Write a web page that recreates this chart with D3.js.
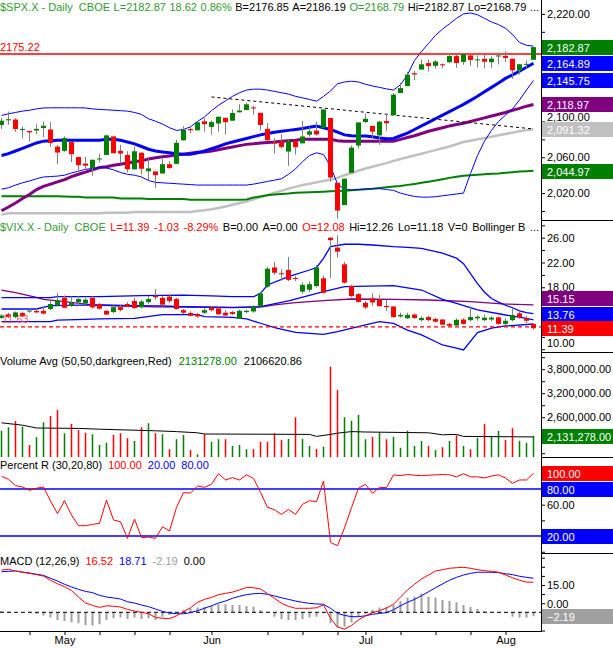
<!DOCTYPE html>
<html lang="en">
<head>
<meta charset="UTF-8">
<title>$SPX.X Daily</title>
<script src="https://d3js.org/d3.v7.min.js"></script>
<style>
  body { margin: 0; background: #fff; }
  svg { display: block; font-family: 'Liberation Sans', Arial, sans-serif; }
  text { font-size: 11px; white-space: pre; }
</style>
</head>
<body>
<svg id="chart" width="613" height="651"></svg>
<script>
// ---- dates / time axis (bar index 0 = Apr 19 2016, 76 = Aug 5 2016)
const weekIdx = [4, 9, 14, 19, 24, 30, 38, 43, 48, 52, 57, 62, 67, 72];
const monthIdx = [9, 30, 52, 72];
const monthNames = ['May', 'Jun', 'Jul', 'Aug'];

// ---- $SPX price
const spxPrevClose = 2094.34;
const spxOpen = [
  2096.05,2101.52,2102.09,2091.49,2089.37,2089.84,2092.57,2090.93,2071.82,2067.17,
  2076.97,2060.30,2052.95,2047.77,2057.55,2062.63,2083.29,2067.17,2062.50,2046.53,
  2065.04,2044.38,2044.21,2041.88,2052.23,2052.65,2078.93,2091.44,2090.06,2100.13,
  2093.94,2097.71,2104.07,2100.83,2110.18,2112.71,2115.65,2109.57,2091.75,2076.65,
  2077.60,2066.36,2078.20,2075.58,2085.19,2089.75,2092.80,2103.81,2031.45,2006.67,
  2042.69,2073.17,2099.34,2095.05,2084.43,2100.42,2106.97,2131.72,2139.50,2153.81,
  2157.88,2165.13,2162.04,2163.79,2166.10,2172.91,2166.47,2173.71,2168.97,2169.81,
  2166.05,2172.86,2173.15,2169.94,2156.81,2163.51,2168.79];
const spxHigh = [
  2104.05,2111.05,2103.78,2094.32,2089.37,2096.87,2099.89,2099.30,2073.85,2083.42,
  2076.97,2060.30,2060.23,2057.72,2064.15,2084.87,2083.29,2073.99,2066.79,2071.88,
  2065.69,2060.61,2044.21,2058.35,2055.58,2079.67,2094.73,2094.30,2099.06,2103.48,
  2100.97,2105.26,2104.07,2113.36,2119.22,2120.55,2117.64,2109.57,2098.12,2081.30,
  2085.65,2079.62,2078.20,2100.66,2093.66,2099.71,2113.32,2103.81,2031.45,2036.09,
  2073.13,2098.94,2108.71,2095.05,2100.72,2109.08,2131.71,2143.16,2155.40,2156.45,
  2169.05,2169.05,2168.35,2164.63,2175.63,2174.56,2175.11,2173.71,2173.54,2174.98,
  2172.85,2177.09,2178.29,2170.20,2163.79,2168.19,2182.87];
const spxLow = [
  2091.68,2096.32,2088.52,2081.20,2077.52,2085.80,2082.31,2071.62,2052.28,2066.11,
  2054.61,2045.55,2045.77,2039.45,2054.31,2062.63,2064.46,2053.13,2043.13,2046.53,
  2040.82,2034.49,2025.91,2041.88,2047.26,2052.65,2078.93,2087.08,2090.06,2088.66,
  2085.10,2088.59,2085.36,2100.83,2110.18,2112.71,2107.73,2089.96,2078.46,2064.10,
  2069.80,2050.37,2062.84,2075.58,2083.02,2084.36,2092.80,2032.57,1991.68,2006.67,
  2042.69,2070.00,2097.90,2080.86,2074.02,2089.39,2106.97,2131.72,2139.50,2146.21,
  2157.88,2155.79,2159.07,2159.40,2164.89,2159.75,2163.24,2161.95,2160.18,2159.07,
  2159.74,2163.49,2166.21,2147.58,2152.25,2159.07,2168.79];
const spxClose = [
  2100.80,2102.40,2091.48,2091.58,2087.79,2091.70,2095.15,2075.81,2065.30,2081.43,
  2063.37,2051.12,2050.63,2057.14,2058.69,2084.39,2064.46,2064.11,2046.61,2066.66,
  2047.21,2047.63,2040.04,2052.32,2048.04,2076.06,2090.54,2090.10,2099.06,2096.95,
  2099.33,2105.26,2099.13,2109.41,2112.13,2119.12,2115.48,2096.07,2079.06,2075.32,
  2071.50,2077.99,2071.22,2083.25,2088.90,2085.45,2113.32,2037.41,2000.54,2036.09,
  2070.77,2098.86,2102.95,2088.55,2099.73,2097.90,2129.90,2137.16,2152.14,2152.43,
  2163.75,2161.74,2166.89,2163.78,2173.02,2165.17,2175.03,2168.48,2169.18,2166.58,
  2170.06,2173.60,2170.84,2157.03,2163.79,2164.25,2182.87];

// overlays
const sma20 = [
  2062,2064,2067,2070,2073,2076,2078,2078.5,2079,2079,
  2079,2079,2079,2079,2079,2080,2080,2079,2077,2075,
  2072,2069,2067,2066,2065,2064,2063.5,2063.5,2065,2067,
  2069.5,2072,2075,2077,2079,2081,2083,2085,2086.5,2088,
  2089,2090,2091,2092,2093.5,2094.8,2093,2091,2088,2085,
  2084,2083.7,2083.7,2083,2081.5,2080.7,2081,2084,2087,2091,
  2095,2099,2103,2107,2111,2115,2119,2123.5,2128,2133,
  2138,2143,2148,2152,2156,2160.5,2164.89];
const bbUpper = [
  2106.7,2108.5,2110,2111.5,2112.5,2114,2115,2115.2,2115.2,2115.2,
  2115.2,2115.2,2115,2114,2113.3,2113,2112.5,2112,2111.5,2110,
  2107.8,2103,2100.3,2097,2093,2090,2091,2094,2100,2105,
  2112,2118,2123,2128,2132,2135,2136,2136,2135,2133.5,
  2132,2130.5,2128,2126.3,2124.5,2122.6,2128,2134,2142,2144,
  2144.8,2144,2141.5,2139.5,2138,2136.3,2135,2141,2152,2168,
  2178,2187,2196,2203,2209,2215,2220,2221,2219,2215,
  2211,2208,2204,2197,2188,2185,2184];
const bbLower = [
  2024.4,2026,2029,2031.5,2033.5,2036,2038,2038.5,2039,2040,
  2042.5,2044.5,2046.5,2047.5,2048.5,2048,2046,2043,2041,2040,
  2038,2034,2032,2031.5,2031,2030.5,2030,2029.5,2029,2029,
  2029,2029,2029,2029,2029,2029,2030,2031.5,2033,2034.5,
  2036,2041,2047,2055,2062,2065,2063,2050,2030,2024.5,
  2023.5,2024,2024.5,2025,2025,2024,2023,2020,2018,2016.3,
  2015.5,2015.5,2016,2017,2018,2019,2020,2042,2062,2078,
  2090,2100,2107,2114,2124,2135,2145.75];
const sma50 = [
  2000.3,2004.5,2009,2014,2018.5,2024,2027.5,2030,2032.5,2035,
  2038.5,2041,2043.5,2046,2048.5,2049.5,2051,2052.2,2053.5,2055,
  2056,2058,2059.5,2060.5,2061.5,2062.5,2063.5,2064.5,2065.5,2066,
  2067,2068.5,2070,2071.5,2073,2074.4,2075,2076,2076.5,2077,
  2078,2078.5,2079,2080,2080,2080,2080,2080,2078.5,2078,
  2078,2078,2078,2078,2078,2078,2078,2080,2082,2084,
  2086.5,2089,2091,2093,2095,2096.5,2098,2100,2102,2104,
  2106,2108,2110,2112.5,2114.5,2117,2118.97];
const sma100 = [
  1996,1997.4,1997.4,1997.4,1997.4,1997.4,1997.4,1997.4,1997.4,1997.4,
  1997.4,1997.4,1997.4,1997.4,1997.4,1998,1998,1998,1998,1999,
  1999,1999,1999,1999,1999,1999,1999,1999,2000,2001,
  2002,2003.5,2005,2007,2009,2010.5,2013,2015.5,2018,2020.5,
  2022.5,2025,2027,2029,2030.5,2032,2033.5,2035,2037,2040,
  2042.5,2045,2047.4,2049.5,2051.5,2053.5,2056,2058,2060,2062,
  2064,2066,2068,2070,2072,2074.5,2077,2078.5,2080,2081.5,
  2083,2084.5,2086,2087.5,2089,2090.3,2091.32];
const sma200 = [
  2016.5,2016.5,2016.5,2016.5,2016.5,2016.5,2016.5,2016.5,2016.5,2016.3,
  2016,2016,2015,2015,2015,2015,2015,2014,2014,2014,
  2014,2013.3,2013.3,2013.3,2013.3,2013.3,2013.3,2012.6,2012.6,2012.6,
  2012.6,2012.6,2012.6,2012.6,2012.7,2012.8,2015,2016.3,2017.5,2018.5,
  2019,2019.5,2020.3,2020.7,2021,2021.3,2021.6,2022,2022.3,2022.7,
  2023.2,2023.8,2024.4,2025,2025.8,2026.5,2027.3,2028,2029.2,2030.3,
  2031.5,2032.7,2034,2035.5,2037,2038.2,2039.3,2040,2040.5,2041,
  2041.5,2042,2042.7,2043.3,2044,2044.5,2044.97];
const trendLine = [[30, 2127.3], [76, 2091.6]];
const resistance = 2175.22;

// ---- $VIX
const vixOpen = [
  13.05,13.65,13.2,13.85,14.1,14.2,14.2,14.5,15.1,16.3,
  15.0,15.6,15.4,16.3,15.3,14.2,14.0,14.8,15.3,15.8,
  14.8,15.6,16.6,16.3,16.5,16.1,14.3,13.85,13.7,13.9,
  14.7,14.6,13.9,14.0,12.95,14.0,14.1,14.9,18.1,21.2,
  20.26,20.8,19.5,17.3,17.6,18.2,19.45,26.0,24.4,21.7,
  18.2,16.9,15.5,16.2,16.0,15.0,14.9,13.3,13.0,13.6,
  12.7,13.2,12.9,12.8,12.1,11.85,12.8,12.7,13.0,12.7,
  12.8,13.15,12.1,12.7,13.8,13.0,12.08];
const vixHigh = [
  13.7,13.9,14.1,14.1,14.6,14.6,14.9,15.8,17.1,16.7,
  16.5,16.6,16.3,16.6,15.5,14.3,15.1,15.2,15.6,16.3,
  16.0,16.6,17.7,16.6,16.9,16.3,14.5,14.1,13.9,14.7,
  15.0,14.9,14.3,14.2,14.4,14.4,15.1,17.3,21.3,22.1,
  20.9,22.9,19.8,18.8,19.0,21.6,19.9,26.1,26.4,22.1,
  18.4,17.1,15.8,17.0,16.8,16.0,15.0,13.9,13.9,13.8,
  13.3,13.4,13.1,12.9,12.3,13.0,13.0,14.9,13.5,13.6,
  13.4,13.3,13.0,14.6,14.1,13.4,12.26];
const vixLow = [
  12.9,13.0,13.0,13.2,13.9,13.8,13.6,14.3,14.9,14.6,
  14.8,15.3,15.1,14.6,14.4,13.5,13.8,14.1,14.8,14.5,
  14.6,15.3,16.0,15.0,15.5,14.4,13.7,13.3,13.1,13.7,
  14.1,13.5,13.3,13.5,12.9,13.8,13.9,14.8,17.9,20.0,
  19.1,19.0,19.0,16.9,17.2,18.0,17.0,19.5,22.8,18.6,
  16.4,15.5,14.5,15.0,14.9,14.2,13.1,13.1,12.9,12.9,
  12.5,12.5,12.3,11.9,11.65,11.75,11.95,12.5,12.6,12.5,
  12.5,11.9,11.9,12.5,12.9,12.2,11.18];
const vixClose = [
  13.45,13.2,13.95,13.3,14.25,13.95,13.75,15.3,15.9,14.7,
  15.5,16.1,16.0,14.75,14.55,13.6,14.8,14.35,14.9,14.65,
  15.7,16.1,16.4,15.2,15.8,14.5,13.9,13.4,13.3,14.3,
  14.3,13.65,13.45,13.7,14.2,14.2,14.9,17.0,21.0,20.35,
  20.1,19.2,19.4,18.4,18.5,21.2,17.1,25.6,23.75,18.75,
  16.6,15.65,14.75,15.55,14.95,14.8,13.2,13.55,13.55,13.05,
  13.05,12.7,12.45,11.97,11.8,12.75,12.1,13.2,13.25,13.1,
  13.1,12.1,12.6,13.5,13.15,12.6,11.39];
const vixUpper = [[0,16.32],[7,16.32],[8,16.48],[14,16.48],[20,16.64],[26,16.75],[30,16.6],[33,16.48],
  [36,16.48],[37,17.03],[38,18.37],[41,19.71],[44,20.79],[45,21.16],[46,22.68],[47,24.55],[49,24.94],
  [51,24.94],[53,24.82],[56,24.55],[58,24.45],[60,24.29],[63,23.5],[65,22.7],[66,21.8],[67,20.2],
  [68,18.6],[69,17.2],[70,16.2],[71,15.6],[72,15.1],[73,14.7],[74,14.2],[75,13.9],[76,13.76]];
const vixMiddle = [[0,14.5],[5,14.5],[7,15.05],[14,15.16],[19,15.05],[23,15.0],[25,14.9],[33,14.72],
  [37,14.87],[41,15.79],[46,17.29],[49,18.1],[56,18.26],[60,17.56],[63,16.06],[65,15.42],[68,14.34],
  [72,13.53],[75,13.0],[76,12.73]];
const vixLower = [[0,12.45],[7,12.45],[8,12.71],[12,12.82],[14,12.89],[19,12.97],[23,13.6],[28,13.6],
  [29,13.26],[33,13.16],[35,12.9],[37,12.2],[39,11.5],[42,10.74],[44,10.58],[46,10.42],[48,10.84],
  [52,11.92],[54,12.45],[56,12.19],[58,11.1],[60,10.31],[63,8.69],[65,8.2],[66,7.9],[68,10.7],
  [70,11.4],[72,11.76],[76,12.08]];
const vixSma = [[0,17.56],[2,17.13],[5,16.38],[6,16.06],[9,15.68],[13,15.15],[17,14.98],[22,14.85],
  [28,14.8],[33,14.77],[37,14.8],[39,15.15],[42,15.52],[46,15.85],[50,16.11],[56,16.06],[61,15.95],
  [67,15.68],[72,15.3],[76,15.15]];
const vixLevel = 11.63;

// ---- volume
const volume = [
  2263000,2347000,2505000,2363000,1905000,2097000,2472000,2630000,2780000,2197000,
  2430000,2280000,2213000,2172000,1905000,1963000,2155000,2197000,2072000,2005000,
  2347000,2447000,2197000,2172000,1797000,2047000,2155000,1780000,1672000,2172000,
  1988000,2047000,2047000,1880000,1905000,1797000,1805000,1988000,1988000,2197000,
  2030000,2055000,2597000,2055000,1880000,1805000,1863000,3863000,3280000,2597000,
  2513000,2655000,2047000,2105000,2222000,2047000,2113000,1838000,2263000,1880000,
  2005000,1880000,1780000,1847000,2005000,2147000,1880000,1797000,2088000,2430000,
  2113000,2255000,2030000,2322000,2013000,1963000,2131278];
const volumeAvg = [[0,2460000],[3,2400000],[5,2330000],[11,2320000],[14,2300000],[22,2260000],
  [25,2240000],[28,2210000],[29,2180000],[44,2170000],[45,2120000],[47,2170000],[48,2200000],
  [50,2240000],[52,2230000],[61,2210000],[63,2160000],[65,2170000],[66,2120000],[76,2106620.86]];

// ---- Percent R (30)
const pctR = [
  96.2,92.3,84.3,82.6,78.3,80.9,82.6,64.7,48.5,65.1,
  46.8,33.2,33.2,34.9,36.2,65.9,40.4,38.3,17.0,41.7,
  17.9,18.7,17.0,31.9,26.4,56.6,75.3,74.9,83.8,82.1,
  86.0,99.5,91.5,94.5,91.5,98.0,93.6,75.7,56.6,53.6,
  47.6,54.0,47.6,60.4,65.1,63.8,90.2,11.9,7.6,30.6,
  56.2,80.9,86.0,74.5,82.1,81.7,98.0,97.0,98.5,97.5,
  97.0,97.5,98.0,98.5,98.0,95.5,99.5,95.5,95.5,94.0,
  96.5,98.0,94.0,87.2,91.5,91.5,100];

// ---- MACD (12,26,9)
const macdLine = [
  23.2,23.6,22.7,22.0,21.4,20.7,19.9,17.6,15.7,14.1,
  11.9,8.4,5.1,3.8,2.7,3.6,3.3,2.9,1.6,0.7,
  0,-0.8,-2.8,-3.3,-3.5,-1.9,0.3,2.5,5.5,7.1,
  8.2,9.7,10.4,11.1,12.3,13.7,13.5,12.8,10.2,7.7,
  4.9,3.3,2.2,2.2,2.2,2.5,4.0,-3.3,-8.1,-9.2,
  -7.2,-4.2,-1.9,-0.2,0.9,2.4,4.4,8.4,12.3,15.4,
  18.3,20.5,22.7,23.4,24.2,24.5,24.7,24.2,23.4,22.9,
  22.5,22.0,20.5,19.0,17.6,16.6,16.52];
const signalLine = [
  22.3,22.5,22.7,22.1,21.6,20.9,20.3,18.7,17.2,15.4,
  13.9,12.6,11.5,10.8,9.3,8.4,7.9,7.3,5.8,5.1,
  4.0,3.1,1.8,0.5,-0.4,-0.8,-0.8,-0.2,0.9,2.2,
  3.6,5.1,6.2,7.7,8.8,9.7,10.2,10.4,9.9,9.0,
  8.0,7.1,6.2,5.5,4.9,4.6,4.4,2.2,-0.6,-1.7,
  -2.4,-2.4,-1.9,-1.1,-0.6,-0.2,1.4,3.6,5.5,7.1,
  9.1,11.3,13.5,15.6,17.6,19.2,20.5,21.4,22.0,22.0,
  22.0,21.8,21.2,20.7,19.8,19.2,18.71];
const macdHist = [
  0.7,0.4,0,-0.2,-0.5,-0.9,-1.8,-2.9,-4.2,-4.8,
  -5.5,-6.0,-7.0,-7.3,-6.6,-4.2,-3.3,-2.9,-3.7,-2.9,
  -3.7,-3.3,-4.2,-2.4,-1.5,-0.5,1.3,2.2,2.6,3.1,
  3.7,4.4,4.4,4.0,4.0,3.5,3.1,1.3,0.4,-2.4,
  -3.7,-4.2,-4.2,-3.7,-2.9,-2.4,-0.5,-6.0,-8.4,-7.9,
  -5.5,-2.4,-1.1,1.3,2.6,3.1,4.0,6.2,8.1,8.6,
  10.4,8.6,8.1,6.8,6.2,5.5,4.0,2.9,1.8,0.7,
  0.4,0,-0.5,-2.4,-2.9,-2.9,-2.19];

// ---------------------------------------------------------------
const svg = d3.select('#chart');
const plotRight = 541, fullW = 613;
const GREEN = '#008000', RED = '#ff0000', BLUE = '#0000ff', PURPLE = '#800080', GRAY = '#c0c0c0';
const HDR_GREEN = '#339933';

const x = d3.scaleLinear().domain([0, 76]).range([1.5, 533.5]);

function makePanel(name, top, bottom, domain) {
  const id = 'clip-' + name;
  svg.append('clipPath').attr('id', id).append('rect')
    .attr('x', 0).attr('y', top).attr('width', plotRight).attr('height', bottom - top);
  const g = svg.append('g').attr('clip-path', `url(#${id})`);
  const y = d3.scaleLinear().domain(domain).range([bottom, top]);
  return { g, y, top, bottom };
}

function seriesLine(p, vals, color, width, dash) {
  p.g.append('path').datum(vals)
    .attr('fill', 'none').attr('stroke', color).attr('stroke-width', width)
    .attr('stroke-dasharray', dash || null)
    .attr('d', d3.line().x((d, i) => x(i)).y(d => p.y(d)));
}

function pairLine(p, pts, color, width, dash) {
  p.g.append('path').datum(pts)
    .attr('fill', 'none').attr('stroke', color).attr('stroke-width', width)
    .attr('stroke-dasharray', dash || null)
    .attr('d', d3.line().x(d => x(d[0])).y(d => p.y(d[1])));
}

function hLine(p, v, color, width, dash) {
  p.g.append('line').attr('x1', 0).attr('x2', plotRight)
    .attr('y1', p.y(v)).attr('y2', p.y(v))
    .attr('stroke', color).attr('stroke-width', width)
    .attr('stroke-dasharray', dash || null);
}

function candles(p, o, h, l, c) {
  const idx = d3.range(o.length);
  p.g.append('g').selectAll('line').data(idx).join('line')
    .attr('x1', i => x(i)).attr('x2', i => x(i))
    .attr('y1', i => p.y(h[i])).attr('y2', i => p.y(l[i]))
    .attr('stroke', '#808080').attr('stroke-width', 1);
  p.g.append('g').selectAll('rect').data(idx).join('rect')
    .attr('x', i => x(i) - 2.5).attr('width', 5)
    .attr('y', i => p.y(Math.max(o[i], c[i])))
    .attr('height', i => Math.max(1, Math.abs(p.y(o[i]) - p.y(c[i]))))
    .attr('fill', i => c[i] >= o[i] ? GREEN : RED);
}

// right-hand axis; nudge moves a label (px) off a value box that sits on it
function rightAxis(p, ticks, labels, fmt, nudge = {}) {
  const g = svg.append('g').attr('transform', `translate(${plotRight},0)`);
  g.call(d3.axisRight(p.y).tickValues(ticks).tickSize(4).tickPadding(2)
    .tickFormat(v => labels.includes(v) ? fmt(v) : ''));
  g.select('.domain').remove();
  g.selectAll('text').attr('font-size', 11).attr('fill', '#000')
    .attr('font-family', "'Liberation Sans', Arial, sans-serif")
    .attr('y', v => nudge[v] || 0);
  g.selectAll('line').attr('stroke', '#000');
}

function valueBox(p, v, fill, label, shift = 0) {
  const cy = Math.round(p.y(v)) + 1 + shift;
  svg.append('rect').attr('x', plotRight + 1).attr('y', cy - 8)
    .attr('width', fullW - plotRight).attr('height', 15).attr('fill', fill);
  svg.append('text').attr('x', 547).attr('y', cy).attr('dy', '0.36em')
    .attr('fill', '#fff').attr('font-size', 12).text(label);
}

// header line: segments flowed left to right, gap fixed or stretched to end at endX
function header(yb, parts, gap, endX) {
  const t = svg.append('text').attr('x', 0).attr('y', yb);
  const spans = parts.map(([s, c]) => t.append('tspan').attr('fill', c).text(s));
  if (endX) gap = (endX - t.node().getComputedTextLength()) / (parts.length - 1);
  spans.forEach((s, k) => { if (k) s.attr('dx', gap); });
}

const f2 = d3.format(',.2f');

// ---- price panel
const price = makePanel('price', 0, 220, [1990, 2235.5]);
seriesLine(price, sma100, GRAY, 2.5);
seriesLine(price, sma200, GREEN, 2);
seriesLine(price, sma50, PURPLE, 3);
seriesLine(price, bbUpper, BLUE, 1);
seriesLine(price, bbLower, BLUE, 1);
seriesLine(price, sma20, BLUE, 3);
pairLine(price, trendLine, '#000', 1, '3,3');
hLine(price, resistance, RED, 1.5);
candles(price, spxOpen, spxHigh, spxLow, spxClose);
svg.append('text').attr('x', 0).attr('y', price.y(resistance) - 3.5).attr('fill', RED)
  .text(resistance.toFixed(2));

// ---- VIX panel
const vix = makePanel('vix', 220, 351.7, [7.61, 28.855]);
pairLine(vix, vixSma, PURPLE, 1.3);
pairLine(vix, vixUpper, BLUE, 1.3);
pairLine(vix, vixMiddle, BLUE, 1.3);
pairLine(vix, vixLower, BLUE, 1.3);
hLine(vix, vixLevel, RED, 1.2, '4,3');
candles(vix, vixOpen, vixHigh, vixLow, vixClose);
svg.append('text').attr('x', 2).attr('y', vix.y(vixLevel) - 4).attr('fill', '#ff6060')
  .text(vixLevel.toFixed(2));

// ---- volume panel
const vol = makePanel('vol', 352.3, 457.3, [1597500, 4222500]);
vol.g.append('g').selectAll('line').data(d3.range(volume.length)).join('line')
  .attr('x1', i => x(i)).attr('x2', i => x(i))
  .attr('y1', vol.bottom).attr('y2', i => vol.y(volume[i]))
  .attr('stroke', i => spxClose[i] >= (i ? spxClose[i - 1] : spxPrevClose) ? GREEN : RED)
  .attr('stroke-width', 1.5);
pairLine(vol, volumeAvg, '#000', 1);

// ---- Percent R panel
const pr = makePanel('pr', 457.3, 553.3, [-2, 120.4]);
hLine(pr, 80, BLUE, 1.5);
hLine(pr, 20, BLUE, 1.5);
seriesLine(pr, pctR, RED, 1);

// ---- MACD panel
const macd = makePanel('macd', 553.3, 631, [-10.27, 32.42]);
macd.g.append('g').selectAll('line').data(d3.range(macdHist.length)).join('line')
  .attr('x1', i => x(i)).attr('x2', i => x(i))
  .attr('y1', macd.y(0)).attr('y2', i => macd.y(macdHist[i]))
  .attr('stroke', '#a0a0a0').attr('stroke-width', 2);
hLine(macd, 0, '#000', 1, '4,3');
seriesLine(macd, signalLine, BLUE, 1);
seriesLine(macd, macdLine, RED, 1);

// ---- right axes (labels that sit fully under a value box are left out)
rightAxis(price, d3.range(2000, 2221, 20), [2020, 2060, 2100, 2220], f2, { 2100: -4 });
rightAxis(vix, d3.range(8, 29, 2), [10, 18, 22, 26], f2, { 10: 6 });
rightAxis(vol, d3.range(1700000, 4200001, 300000), [2600000, 3200000, 3800000], f2);
rightAxis(pr, [0, 20, 40, 60, 80, 100], [60], f2);
rightAxis(macd, [-10, -5, 0, 5, 10, 15, 20, 25, 30], [0, 15], f2, { 0: -8 });

// value boxes
valueBox(price, spxClose[76], GREEN, f2(spxClose[76]));
valueBox(price, sma20[76], BLUE, f2(sma20[76]));
valueBox(price, bbLower[76], BLUE, f2(bbLower[76]));
valueBox(price, sma50[76], PURPLE, f2(sma50[76]));
valueBox(price, sma100[76], GRAY, f2(sma100[76]));
valueBox(price, sma200[76], GREEN, f2(sma200[76]));
valueBox(vix, vixSma[vixSma.length - 1][1], PURPLE, f2(vixSma[vixSma.length - 1][1]), -7);
valueBox(vix, vixUpper[vixUpper.length - 1][1], BLUE, f2(vixUpper[vixUpper.length - 1][1]));
valueBox(vix, vixClose[76], RED, f2(vixClose[76]));
valueBox(vol, volume[76], GREEN, f2(volume[76]));
valueBox(pr, 100, RED, '100.00');
valueBox(pr, 80, BLUE, '80.00');
valueBox(pr, 20, BLUE, '20.00');
valueBox(macd, macdHist[76], '#a0a0a0', f2(macdHist[76]));

// frame lines
svg.append('line').attr('x1', plotRight + 0.5).attr('x2', plotRight + 0.5)
  .attr('y1', 0).attr('y2', 631).attr('stroke', '#000');
[220, 352, 457, 553].forEach(yy => {
  svg.append('line').attr('x1', plotRight).attr('x2', fullW)
    .attr('y1', yy + 0.5).attr('y2', yy + 0.5).attr('stroke', '#000');
});

// ---- bottom time axis
const xa = svg.append('g').attr('transform', 'translate(0,631)');
xa.call(d3.axisBottom(x).tickValues(weekIdx).tickSize(4).tickPadding(1)
  .tickFormat(i => monthIdx.includes(i) ? monthNames[monthIdx.indexOf(i)] : ''));
xa.select('.domain').remove();
xa.selectAll('text').attr('font-size', 11).attr('fill', '#000')
  .attr('font-family', "'Liberation Sans', Arial, sans-serif");
xa.selectAll('line').attr('stroke', '#000');
svg.append('line').attr('x1', 0).attr('x2', plotRight + 1)
  .attr('y1', 631.5).attr('y2', 631.5).attr('stroke', '#000');

// ---- panel headers
header(11, [['$SPX.X - Daily  CBOE', HDR_GREEN], ['L=2182.87', HDR_GREEN], ['18.62', HDR_GREEN],
  ['0.86%', HDR_GREEN], ['B=2176.85', '#000'], ['A=2186.19', '#000'], ['O=2168.79', HDR_GREEN],
  ['Hi=2182.87', '#000'], ['Lo=2168.79', '#000'], ['...', '#000']], 0, 539);
header(231, [['$VIX.X - Daily  CBOE', HDR_GREEN], ['L=11.39', RED], ['-1.03', RED],
  ['-8.29%', RED], ['B=0.00', '#000'], ['A=0.00', '#000'], ['O=12.08', RED],
  ['Hi=12.26', '#000'], ['Lo=11.18', '#000'], ['V=0', '#000'], ['Bollinger B', '#000'],
  ['...', '#000']], 0, 539);
header(365, [['Volume Avg (50,50,darkgreen,Red)', '#000'], ['2131278.00', GREEN],
  ['2106620.86', '#000']], 7);
header(468.5, [['Percent R (30,20,80)', '#000'], ['100.00', RED], ['20.00', BLUE],
  ['80.00', BLUE]], 6);
header(565, [['MACD (12,26,9)', '#000'], ['16.52', RED], ['18.71', BLUE],
  ['-2.19', '#a0a0a0'], ['0.00', '#000']], 6);
</script>
</body>
</html>
